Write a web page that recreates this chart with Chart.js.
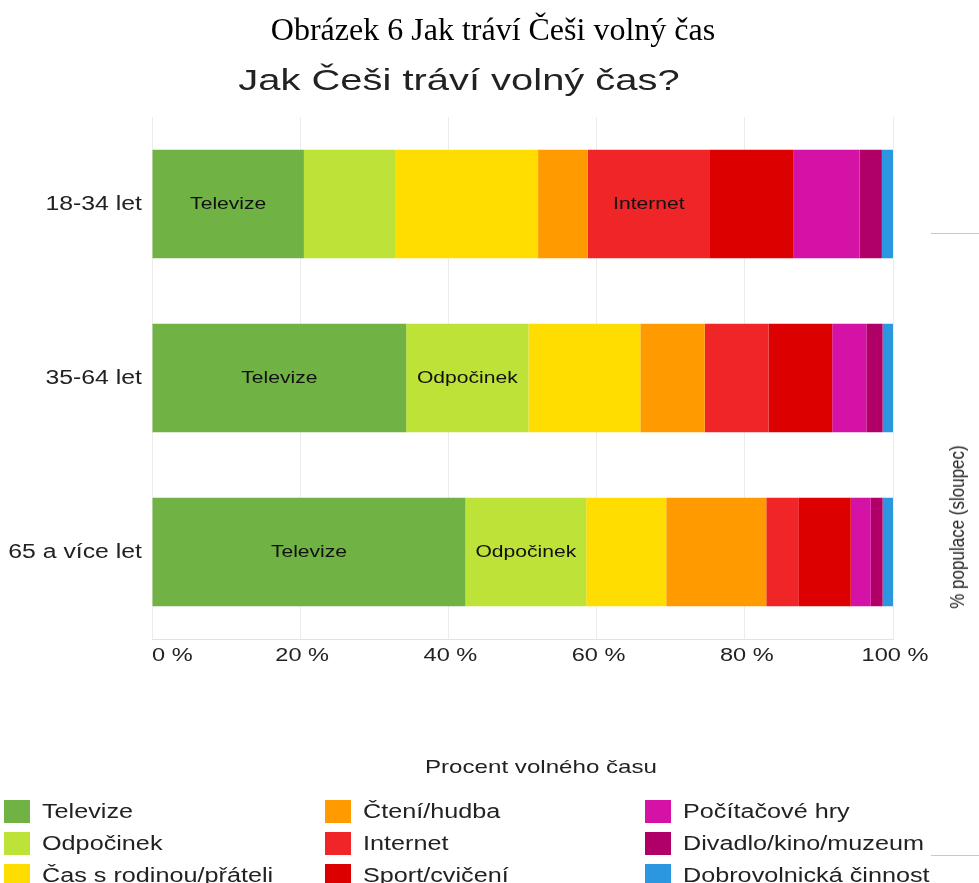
<!DOCTYPE html>
<html lang="cs">
<head>
<meta charset="utf-8">
<title>Jak tráví Češi volný čas</title>
<script src="https://cdn.jsdelivr.net/npm/chart.js@4.4.1/dist/chart.umd.min.js"></script>
<style>
    body { margin: 0; background: #fff; width: 979px; height: 883px; overflow: hidden; position: relative; font-family: 'Liberation Sans', Arial, sans-serif; color: #222; }
    #chartBox { position: absolute; left: 0; top: 0; width: 979px; height: 883px; }
    .overlay { position: absolute; white-space: nowrap; pointer-events: none; }
    /* the original lettering is stretched sideways, so text is widened with scaleX */
    #caption { left: 493px; top: 11px; transform: translateX(-50%); font-family: 'Liberation Serif', 'Times New Roman', serif; font-size: 32px; color: #000; }
    #title { left: 459px; top: 63px; transform: translateX(-50%) scaleX(1.33); font-size: 30px; color: #222; }
    #axisNote { left: 958px; top: 527px; transform: translate(-50%, -50%) rotate(-90deg) scaleY(1.2); font-size: 17px; color: #222; }
    .sideLine { position: absolute; left: 931px; width: 48px; height: 1px; background: #c8c8c8; }
    #legendTitle { left: 541px; top: 756px; transform: translateX(-50%) scaleX(1.27); font-size: 19px; color: #222; }
    .legendItem { position: absolute; height: 23px; display: flex; align-items: center; font-size: 20px; color: #222; white-space: nowrap; }
    .legendItem .box { display: inline-block; width: 26px; height: 23px; margin-right: 12px; }
    .legendItem .name { display: inline-block; transform-origin: left center; transform: scaleX(1.26); }
</style>
</head>
<body>
<div id="chartBox"><canvas id="timeChart"></canvas></div>
<div id="caption" class="overlay">Obrázek 6 Jak tráví Češi volný čas</div>
<div id="title" class="overlay">Jak Češi tráví volný čas?</div>
<div id="axisNote" class="overlay">% populace (sloupec)</div>
<div class="sideLine" style="top: 233px;"></div>
<div class="sideLine" style="top: 855px;"></div>
<div id="legendTitle" class="overlay">Procent volného času</div>
<div id="legend"></div>

<script>
// data (percent of free time per age group)
const ageGroups = ['18-34 let', '35-64 let', '65 a více let'];
const seriesNames = ['Televize', 'Odpočinek', 'Čas s rodinou/přáteli', 'Čtení/hudba', 'Internet',
    'Sport/cvičení', 'Počítačové hry', 'Divadlo/kino/muzeum', 'Dobrovolnická činnost'];
const seriesColors = ['#70b244', '#bde238', '#ffdd00', '#ff9a00', '#ef2528',
    '#dd0000', '#d512a6', '#b00067', '#2b97e0'];

const televize = [20.5, 34.3, 42.3];
const odpocinek = [12.4, 16.5, 16.3];
const casSRodinou = [19.2, 15.1, 10.8];
const cteniHudba = [6.7, 8.7, 13.5];
const internet = [16.5, 8.6, 4.4];
const sportCviceni = [11.3, 8.6, 7.0];
const pocitacoveHry = [8.9, 4.6, 2.7];
const divadloKino = [3.0, 2.2, 1.6];
const dobrovolnictvi = [1.5, 1.4, 1.4];

const xTicks = [0, 20, 40, 60, 80, 100];

const seriesValues = [televize, odpocinek, casSRodinou, cteniHudba, internet,
    sportCviceni, pocitacoveHry, divadloKino, dobrovolnictvi];

const FONT = "'Liberation Sans', Arial, sans-serif";
const STRETCH = 1.24;

window.addEventListener('DOMContentLoaded', () => {
    buildLegend();
    renderChart();
});

function buildLegend() {
    const legend = document.getElementById('legend');
    const colLeft = [4, 325, 645];
    const rowTop = [800, 832, 864];
    seriesNames.forEach((name, i) => {
        const item = document.createElement('div');
        item.className = 'legendItem';
        item.style.left = colLeft[Math.floor(i / 3)] + 'px';
        item.style.top = rowTop[i % 3] + 'px';
        item.innerHTML = `<span class="box" style="background:${seriesColors[i]}"></span><span class="name">${name}</span>`;
        legend.appendChild(item);
    });
}

// draw text widened sideways around an anchor point
function wideText(ctx, text, x, y, align) {
    ctx.save();
    ctx.translate(x, y);
    ctx.scale(STRETCH, 1);
    ctx.textAlign = align;
    ctx.fillText(text, 0, 0);
    ctx.restore();
}

// names written inside segments that are large enough
const segmentLabels = {
    id: 'segmentLabels',
    afterDatasetsDraw(chart) {
        const ctx = chart.ctx;
        ctx.save();
        ctx.font = `17px ${FONT}`;
        ctx.fillStyle = '#111';
        ctx.textBaseline = 'middle';
        chart.data.datasets.forEach((ds, d) => {
            const meta = chart.getDatasetMeta(d);
            meta.data.forEach((bar, i) => {
                const value = ds.data[i];
                if (value < 15) return;
                const { x, y, base } = bar.getProps(['x', 'y', 'base'], true);
                const w = Math.abs(x - base);
                if (ctx.measureText(ds.label).width * STRETCH + 10 > w) return;
                wideText(ctx, ds.label, (x + base) / 2, y, 'center');
            });
        });
        ctx.restore();
    }
};

// axis labels: first x label sits at the axis start, the rest centred
const axisLabels = {
    id: 'axisLabels',
    afterDraw(chart) {
        const sx = chart.scales.x;
        const sy = chart.scales.y;
        const ctx = chart.ctx;
        ctx.save();
        ctx.fillStyle = '#222';
        ctx.textBaseline = 'middle';
        ctx.font = `19px ${FONT}`;
        sx.ticks.forEach(t => {
            const px = sx.getPixelForValue(t.value);
            if (t.value === 0) wideText(ctx, t.value + ' %', px, sx.top + 17, 'left');
            else wideText(ctx, t.value + ' %', px + 2, sx.top + 17, 'center');
        });
        ctx.font = `20px ${FONT}`;
        ageGroups.forEach((g, i) => {
            wideText(ctx, g, sy.right - 10, sy.getPixelForValue(i), 'right');
        });
        ctx.restore();
    }
};

function renderChart() {
    const ctx = document.getElementById('timeChart');

    new Chart(ctx.getContext('2d'), {
        type: 'bar',
        data: {
            labels: ageGroups,
            datasets: seriesNames.map((name, i) => ({
                label: name,
                data: seriesValues[i],
                backgroundColor: seriesColors[i],
                borderWidth: 0,
                categoryPercentage: 1,
                barPercentage: 0.624
            }))
        },
        options: {
            indexAxis: 'y',
            responsive: true,
            maintainAspectRatio: false,
            animation: false,
            layout: { padding: { left: 0, top: 117, right: 86, bottom: 214 } },
            plugins: {
                legend: { display: false },
                tooltip: { enabled: false }
            },
            scales: {
                x: {
                    stacked: true,
                    min: 0,
                    max: 100,
                    afterBuildTicks(scale) { scale.ticks = xTicks.map(v => ({ value: v })); },
                    afterFit(scale) { scale.height = 30; },
                    grid: { color: '#ececec', drawTicks: false },
                    border: { color: '#e2e2e2' },
                    ticks: { display: false }
                },
                y: {
                    stacked: true,
                    afterFit(scale) { scale.width = 152; },
                    grid: { display: false, drawTicks: false },
                    border: { display: false },
                    ticks: { display: false }
                }
            }
        },
        plugins: [segmentLabels, axisLabels]
    });
}
</script>
</body>
</html>
